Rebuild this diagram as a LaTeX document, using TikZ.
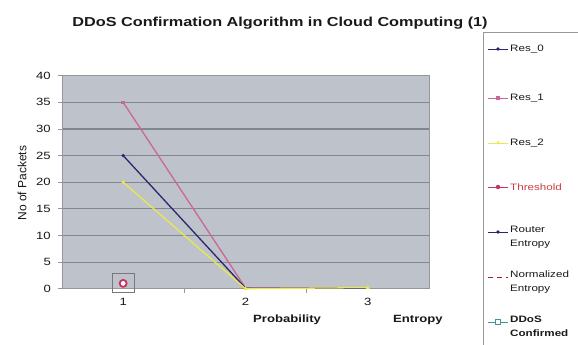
\documentclass[tikz,border=0pt]{standalone}
\usepackage{graphicx}
\usepackage{fontspec}
\setmainfont{Liberation Sans}
\usetikzlibrary{shapes.geometric,calc}

% wide lettering used throughout the chart
\newcommand\sx[1]{\scalebox{1.25}[1]{#1}}

\definecolor{plotbg}{RGB}{190,194,202}
\definecolor{gridc}{RGB}{130,134,142}
\definecolor{framec}{RGB}{150,150,155}
\definecolor{resA}{RGB}{40,40,110}
\definecolor{resB}{RGB}{204,102,153}
\definecolor{resC}{RGB}{232,232,80}
\definecolor{thrc}{RGB}{200,50,100}
\definecolor{thrtext}{RGB}{205,60,70}
\definecolor{normc}{RGB}{150,40,40}
\definecolor{ddosc}{RGB}{60,150,160}
\definecolor{txtc}{RGB}{25,25,25}

\tikzset{
  gridline/.style={draw=gridc, line width=1.1pt},
  ticklab/.style={font=\fontsize{10.5}{12}\selectfont, text=txtc, inner sep=0pt},
  axlab/.style={font=\fontsize{10.5}{12}\selectfont\bfseries, text=txtc, inner sep=0pt},
  legtext/.style={font=\fontsize{9.3}{14}\selectfont, text=txtc, anchor=west, inner sep=0pt, align=left},
  series/.style={line width=1.3pt},
  sqmark/.style={rectangle, fill=#1, minimum size=3.4pt, inner sep=0pt},
  dmmark/.style={diamond, fill=#1, minimum size=3.8pt, inner sep=0pt},
  trmark/.style={isosceles triangle, isosceles triangle apex angle=60, shape border rotate=90, fill=#1, minimum size=3.6pt, inner sep=0pt},
}

\begin{document}
\begin{tikzpicture}[x=1pt, y=-1pt]
\useasboundingbox (0,0) rectangle (578,345);
\fill[white] (0,0) rectangle (578,345);

% title
\node[font=\fontsize{13}{15}\selectfont\bfseries, text=txtc] (title) at (280,23)
  {\sx{DDoS Confirmation Algorithm in Cloud Computing (1)}};

% plot area: x in categories (0..3), y in packets (0..40)
\begin{scope}[shift={(62,288.7)}, x=122.33pt, y=5.325pt]
  \fill[plotbg] (0,0) rectangle (3,40);
  \foreach \v in {5,10,...,35} \draw[gridline] (0,\v) -- (3,\v);
  \draw[framec, line width=0.8pt] (0,0) rectangle (3,40);
  % y axis ticks and labels
  \foreach \v in {0,5,...,40} {
    \draw[framec, line width=0.8pt] ([xshift=-4pt]0,\v) -- (0,\v);
    \node[ticklab, anchor=east] at ([xshift=-11pt]0,\v) {\sx{\v}};
  }
  % x axis ticks and labels
  \foreach \c in {1,2} \draw[framec, line width=0.8pt] (\c,0) -- ([yshift=-4pt]\c,0);
  \foreach \c in {1,2,3} \node[ticklab] at ([yshift=-13.5pt]\c-0.5,0) {\sx{\c}};
  \node[axlab] (xlA) at ([yshift=-31pt]1.84,0) {\sx{Probability}};
  \node[axlab] (xlB) at ([yshift=-31.5pt]2.91,0) {\sx{Entropy}};

  % data points
  \coordinate (a1) at (0.5,25);  \coordinate (a2) at (1.5,0.1); \coordinate (a3) at (2.5,0.1);
  \coordinate (b1) at (0.5,35);  \coordinate (b2) at (1.5,0.15); \coordinate (b3) at (2.5,0.15);
  \coordinate (c1) at (0.5,20);  \coordinate (c2) at (1.5,0);   \coordinate (c3) at (2.5,0.2);
  \coordinate (th) at (0.5,1);

  % series
  \draw[series, resB] (b1) -- (b2) -- (b3);
  \draw[series, resA] (a1) -- (a2) -- (a3);
  \draw[series, resC] (c1) -- (c2) -- (c3);
  \node[sqmark=resB] at (b1) {};
  \node[dmmark=resA] at (a1) {};
  \node[trmark=resC] at (c1) {};
  \node[trmark=resC] at (c2) {};
  \node[trmark=resC] at (c3) {};

  % confirmation box and threshold
  \node[draw=framec!80!black, line width=0.6pt, minimum width=22pt, minimum height=19pt, inner sep=0pt] (dc) at (0.5,1.15) {};
  \node[circle, draw=thrc, line width=1.8pt, fill=white, minimum size=7pt, inner sep=0pt] (thm) at (th) {};
\end{scope}

% y axis title
\node[font=\fontsize{12}{14}\selectfont, text=txtc, rotate=90] (ylab) at (22,183) {No of Packets};

% legend frame
\draw[framec, line width=0.8pt] (483,345) -- (483,32) -- (578,32);

% legend entries
\coordinate (l0a) at (488,49);  \coordinate (l0b) at (508,49);
\coordinate (l1a) at (488,98);  \coordinate (l1b) at (508,98);
\coordinate (l2a) at (488,143); \coordinate (l2b) at (508,143);
\coordinate (l3a) at (488,187); \coordinate (l3b) at (508,187);
\coordinate (l4a) at (488,232); \coordinate (l4b) at (508,232);
\coordinate (l5a) at (488,277); \coordinate (l5b) at (508,277);
\coordinate (l6a) at (488,322); \coordinate (l6b) at (508,322);

\draw[resA, line width=0.9pt] (l0a) -- (l0b);
\node[dmmark=resA] at ($(l0a)!0.5!(l0b)$) {};
\node[legtext] (t0) at (510,49) {\sx{Res\_0}};

\draw[resB, line width=0.9pt] (l1a) -- (l1b);
\node[sqmark=resB] at ($(l1a)!0.5!(l1b)$) {};
\node[legtext] (t1) at (510,98) {\sx{Res\_1}};

\draw[resC, line width=0.9pt] (l2a) -- (l2b);
\node[trmark=resC] at ($(l2a)!0.5!(l2b)$) {};
\node[legtext] (t2) at (510,143) {\sx{Res\_2}};

\draw[thrc, line width=0.9pt] (l3a) -- (l3b);
\node[circle, fill=thrc, minimum size=4.5pt, inner sep=0pt] at ($(l3a)!0.5!(l3b)$) {};
\node[legtext, text=thrtext] (t3) at (510,187) {\sx{Threshold}};

\draw[resA, line width=0.9pt] (l4a) -- (l4b);
\node[dmmark=resA] at ($(l4a)!0.5!(l4b)$) {};
\node[legtext, anchor=north west] (t4) at (510,226) {\sx{Router}\\\sx{Entropy}};

\draw[normc, line width=0.9pt, dash pattern=on 5pt off 4pt] (l5a) -- (l5b);
\node[legtext, anchor=north west] (t5) at (510,271) {\sx{Normalized}\\\sx{Entropy}};

\draw[ddosc, line width=0.9pt] (l6a) -- (l6b);
\node[rectangle, draw=ddosc, fill=white, line width=0.6pt, minimum size=5pt, inner sep=0pt] at ($(l6a)!0.5!(l6b)$) {};
\node[legtext, anchor=north west, font=\fontsize{9.3}{14}\selectfont\bfseries] (t6) at (510,316) {\sx{DDoS}\\\sx{Confirmed}};
\end{tikzpicture}
\end{document}
